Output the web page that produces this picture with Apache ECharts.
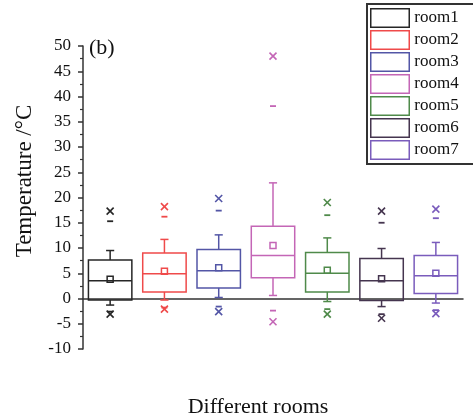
<!DOCTYPE html>
<html>
<head>
<meta charset="utf-8">
<script src="https://cdn.jsdelivr.net/npm/echarts@6/dist/echarts.min.js"></script>
<style>
  html, body { margin: 0; padding: 0; background: #fff; }
  #main { width: 473px; height: 419px; }
</style>
</head>
<body>
<div id="main"></div>
<script>
// room names and colours
var rooms = ['room1', 'room2', 'room3', 'room4', 'room5', 'room6', 'room7'];
var colors = ['#262626', '#ef4a4a', '#5356a6', '#c466b6', '#4f8a4a', '#45354f', '#7a5cbc'];

// box statistics
var mins    = [-1.3, -0.3,  0.2,  0.6, -0.6, -1.6, -0.9];
var q1s     = [-0.3,  1.3,  2.1,  4.1,  1.3, -0.4,  1.0];
var medians = [ 3.5,  4.9,  5.5,  8.5,  5.0,  3.5,  4.5];
var q3s     = [ 7.6,  9.0,  9.7, 14.3,  9.1,  7.9,  8.5];
var maxs    = [ 9.5, 11.7, 12.6, 22.9, 12.0,  9.9, 11.1];
var means   = [ 3.8,  5.4,  6.1, 10.5,  5.6,  3.9,  5.0];
// 1% / 99% dashes and min / max crosses
var p1s     = [-2.6, -1.8, -1.6, -2.4, -2.1, -3.1, -2.3];
var p99s    = [15.3, 16.2, 17.4, 38.1, 16.5, 15.0, 15.9];
var lowX    = [-3.1, -2.1, -2.6, -4.6, -3.1, -3.9, -3.0];
var highX   = [17.3, 18.2, 19.8, 48.0, 19.0, 17.3, 17.7];

var yTicks = { min: -10, max: 50, step: 5 };

var chart = echarts.init(document.getElementById('main'));

function renderItem(params, api) {
  var x = api.value(0);
  var c = colors[params.seriesIndex];
  var band = api.size([1, 0])[0];
  var bw = band * 0.8;
  var cap = band * 0.15;
  var pt = function (v) { return api.coord([x, v]); };
  var st = { stroke: c, lineWidth: 1.5, fill: null };
  var line = function (x1, y1, x2, y2, w) {
    return { type: 'line', shape: { x1: x1, y1: y1, x2: x2, y2: y2 },
      style: { stroke: c, lineWidth: w || 1.5 } };
  };
  var cx = pt(0)[0];
  var yMin = pt(api.value(1))[1], yQ1 = pt(api.value(2))[1], yMed = pt(api.value(3))[1];
  var yQ3 = pt(api.value(4))[1], yMax = pt(api.value(5))[1], yMean = pt(api.value(6))[1];
  var yP1 = pt(api.value(7))[1], yP99 = pt(api.value(8))[1];
  var yLo = pt(api.value(9))[1], yHi = pt(api.value(10))[1];
  var kids = [];
  kids.push({ type: 'rect', shape: { x: cx - bw / 2, y: yQ3, width: bw, height: yQ1 - yQ3 }, style: st });
  kids.push(line(cx - bw / 2, yMed, cx + bw / 2, yMed));
  kids.push(line(cx, yQ3, cx, yMax));
  kids.push(line(cx, yQ1, cx, yMin));
  kids.push(line(cx - cap / 2, yMax, cx + cap / 2, yMax));
  kids.push(line(cx - cap / 2, yMin, cx + cap / 2, yMin));
  kids.push({ type: 'rect', shape: { x: cx - 3, y: yMean - 3, width: 6, height: 6 }, style: st });
  kids.push(line(cx - 3, yP1, cx + 3, yP1, 1.8));
  kids.push(line(cx - 3, yP99, cx + 3, yP99, 1.8));
  [yLo, yHi].forEach(function (yy) {
    kids.push(line(cx - 3.5, yy - 3.5, cx + 3.5, yy + 3.5, 1.6));
    kids.push(line(cx - 3.5, yy + 3.5, cx + 3.5, yy - 3.5, 1.6));
  });
  return { type: 'group', children: kids };
}

var series = rooms.map(function (name, i) {
  return {
    name: name,
    type: 'custom',
    renderItem: renderItem,
    itemStyle: { color: '#fff', borderColor: colors[i], borderWidth: 1.5 },
    encode: { x: 0, y: [1, 5] },
    data: [[i, mins[i], q1s[i], medians[i], q3s[i], maxs[i], means[i], p1s[i], p99s[i], lowX[i], highX[i]]]
  };
});

var option = {
  animation: false,
  backgroundColor: '#fff',
  grid: { left: 83, right: 10, top: 46, bottom: 70 },
  legend: {
    orient: 'vertical',
    left: 367,
    top: 4,
    itemWidth: 38.5,
    itemHeight: 18.5,
    itemGap: 2,
    padding: [4, 30, 4, 3],
    borderColor: '#333',
    borderWidth: 2,
    textStyle: { fontFamily: 'Liberation Serif', fontSize: 17, color: '#111' },
    data: rooms.map(function (n, i) {
      return { name: n, icon: 'rect',
        itemStyle: { color: '#fff', borderColor: colors[i], borderWidth: 1.5 } };
    })
  },
  xAxis: {
    type: 'category',
    data: rooms,
    axisLine: { lineStyle: { color: '#333', width: 1.5 } },
    axisTick: { alignWithLabel: true, length: 5, lineStyle: { color: '#333', width: 1.5 } },
    axisLabel: { show: false },
    splitLine: { show: false }
  },
  yAxis: {
    type: 'value',
    min: yTicks.min,
    max: yTicks.max,
    interval: yTicks.step,
    axisLine: { show: true, lineStyle: { color: '#333', width: 1.5 } },
    axisTick: { show: true, length: 5, lineStyle: { color: '#333', width: 1.5 } },
    minorTick: { show: true, splitNumber: 2, length: 3, lineStyle: { color: '#333', width: 1.2 } },
    axisLabel: { fontFamily: 'Liberation Serif', fontSize: 17, color: '#111', margin: 12 },
    splitLine: { show: false }
  },
  graphic: [{
    type: 'text', left: 89, top: 37,
    style: { text: '(b)', font: '22px "Liberation Serif"', fill: '#111' }
  }, {
    type: 'text', x: 25, y: 181, rotation: Math.PI / 2,
    style: { text: 'Temperature /\u00B0C', font: '23px "Liberation Serif"', fill: '#111',
      align: 'center', verticalAlign: 'middle' }
  }, {
    type: 'text', x: 258, y: 407,
    style: { text: 'Different rooms', font: '22px "Liberation Serif"', fill: '#111',
      align: 'center', verticalAlign: 'middle' }
  }],
  series: series
};

chart.setOption(option);
</script>
</body>
</html>
